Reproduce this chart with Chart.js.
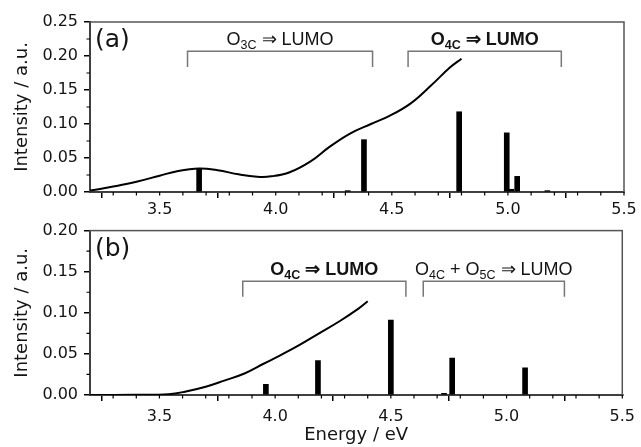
<!DOCTYPE html>
<html>
<head>
<meta charset="utf-8">
<script src="https://cdn.jsdelivr.net/npm/chart.js@4.4.1/dist/chart.umd.min.js"></script>
<style>
  body { margin: 0; background: #fff; }
  #wrap { position: relative; width: 641px; height: 447px; }
  .panel { position: absolute; left: 0; }
</style>
</head>
<body>
<div id="wrap">
  <div class="panel" style="top:0"><canvas id="chartA" width="641" height="230"></canvas></div>
  <div class="panel" style="top:215px"><canvas id="chartB" width="641" height="232"></canvas></div>
</div>
<script>
// panel (a): stick spectrum + broadened curve
const stickEnergyA = [3.67, 4.31, 4.38, 4.79, 4.995, 5.015, 5.04, 5.17];
const stickIntensityA = [0.034, 0.002, 0.077, 0.118, 0.087, 0.004, 0.023, 0.002];
const curveEnergyA = [3.20, 3.30, 3.40, 3.50, 3.58, 3.67, 3.75, 3.84, 3.92, 3.98, 4.06, 4.15, 4.23, 4.32, 4.41, 4.49, 4.58, 4.67, 4.75, 4.80];
const curveIntensityA = [0.002, 0.008, 0.015, 0.024, 0.031, 0.0345, 0.032, 0.026, 0.0225, 0.023, 0.029, 0.045, 0.066, 0.086, 0.100, 0.112, 0.130, 0.157, 0.183, 0.196];

// panel (b)
const stickEnergyB = [3.96, 4.185, 4.50, 4.73, 4.765, 5.08];
const stickIntensityB = [0.013, 0.042, 0.091, 0.002, 0.045, 0.033];
const curveEnergyB = [3.20, 3.40, 3.54, 3.61, 3.70, 3.78, 3.87, 3.95, 4.02, 4.10, 4.19, 4.28, 4.36, 4.40];
const curveIntensityB = [0.0, 0.0002, 0.001, 0.004, 0.010, 0.0175, 0.0265, 0.038, 0.048, 0.060, 0.075, 0.090, 0.105, 0.114];

const xTicks = [3.5, 4.0, 4.5, 5.0, 5.5];
const yTicksA = [0.00, 0.05, 0.10, 0.15, 0.20, 0.25];
const yTicksB = [0.00, 0.05, 0.10, 0.15, 0.20];

// bracket annotations: x start/end (eV), bracket top and foot (intensity), label parts
const bracketsA = [
  { x0: 3.62, x1: 4.417, yTop: 0.207, yFoot: 0.184, bold: false,
    parts: [['O'], ['3C', 'sub'], [' \u21D2 LUMO']] },
  { x0: 4.57, x1: 5.23, yTop: 0.207, yFoot: 0.184, bold: true,
    parts: [['O'], ['4C', 'sub'], [' \u21D2 LUMO']] }
];
const bracketsB = [
  { x0: 3.86, x1: 4.565, yTop: 0.1385, yFoot: 0.1196, bold: true,
    parts: [['O'], ['4C', 'sub'], [' \u21D2 LUMO']] },
  { x0: 4.64, x1: 5.25, yTop: 0.1385, yFoot: 0.1196, bold: false,
    parts: [['O'], ['4C', 'sub'], [' + O'], ['5C', 'sub'], [' \u21D2 LUMO']] }
];

const AXFONT = "'DejaVu Sans', sans-serif";
const LBLFONT = "'Liberation Sans', Arial, Helvetica, sans-serif";
const INK = '#141414';

function drawRich(ctx, parts, cx, baseline, bold) {
  const w = bold ? 'bold ' : '';
  const fonts = parts.map(p => p[1] === 'sub' ? w + '12.5px ' + LBLFONT : w + '18px ' + LBLFONT);
  let total = 0;
  const widths = parts.map((p, i) => { ctx.font = fonts[i]; const m = ctx.measureText(p[0]).width; total += m; return m; });
  let x = cx - total / 2;
  parts.forEach((p, i) => {
    ctx.font = fonts[i];
    ctx.fillText(p[0], x, p[1] === 'sub' ? baseline + 4 : baseline);
    x += widths[i];
  });
}

const decorPlugin = {
  id: 'decor',
  beforeDatasetsDraw(chart, args, opts) {
    const ctx = chart.ctx;
    const a = chart.chartArea;
    const xs = chart.scales.x, ys = chart.scales.y;
    ctx.save();
    // frame
    ctx.strokeStyle = '#555';
    ctx.lineWidth = 1.5;
    ctx.strokeRect(a.left, a.top, a.right - a.left, a.bottom - a.top);
    // minor ticks
    ctx.strokeStyle = '#000';
    ctx.lineWidth = 1.2;
    ctx.beginPath();
    for (let v = 3.3; v < 5.5; v += 0.1) {
      const px = xs.getPixelForValue(v);
      ctx.moveTo(px, a.bottom); ctx.lineTo(px, a.bottom + 3.5);
    }
    for (let v = 0.025; v < opts.yMax; v += 0.05) {
      const py = ys.getPixelForValue(v);
      ctx.moveTo(a.left, py); ctx.lineTo(a.left - 3.5, py);
    }
    ctx.stroke();
    // brackets
    ctx.strokeStyle = '#777';
    ctx.lineWidth = 1.5;
    ctx.fillStyle = INK;
    ctx.textAlign = 'left';
    ctx.textBaseline = 'alphabetic';
    opts.brackets.forEach(b => {
      const x0 = xs.getPixelForValue(b.x0), x1 = xs.getPixelForValue(b.x1);
      const yt = ys.getPixelForValue(b.yTop), yf = ys.getPixelForValue(b.yFoot);
      ctx.beginPath();
      ctx.moveTo(x0, yf); ctx.lineTo(x0, yt); ctx.lineTo(x1, yt); ctx.lineTo(x1, yf);
      ctx.stroke();
      drawRich(ctx, b.parts, (x0 + x1) / 2, yt - 6, b.bold);
    });
    // panel label
    ctx.font = '25px ' + AXFONT;
    ctx.fillText(opts.panel, a.left + 5, a.top + 25);
    ctx.restore();
  }
};

function makeChart(id, stickE, stickI, curveE, curveI, yTicks, yMax, brackets, panel, bottomPanel) {
  const topPad = bottomPanel ? 10 : 22;
  const canvasH = bottomPanel ? 232 : 230;
  const xHeight = canvasH - topPad - 170;
  return new Chart(document.getElementById(id), {
    type: 'bar',
    data: {
      datasets: [
        {
          type: 'line',
          data: curveE.map((e, i) => ({ x: e, y: curveI[i] })),
          borderColor: '#000',
          borderWidth: 2,
          pointRadius: 0,
          tension: 0.4,
          fill: false
        },
        {
          type: 'bar',
          data: stickE.map((e, i) => ({ x: e, y: stickI[i] })),
          backgroundColor: '#000',
          barThickness: 5
        }
      ]
    },
    options: {
      responsive: false,
      devicePixelRatio: 1,
      animation: false,
      layout: { padding: { top: topPad, right: 17, left: 0, bottom: 0 } },
      plugins: {
        legend: { display: false },
        tooltip: { enabled: false },
        decor: { brackets, panel, yMax }
      },
      scales: {
        x: {
          type: 'linear',
          min: 3.2, max: 5.5,
          offset: false,
          afterBuildTicks: s => { s.ticks = xTicks.map(v => ({ value: v })); },
          afterFit: s => { s.height = xHeight; },
          border: { color: '#000', width: 2 },
          grid: { drawOnChartArea: false, tickLength: 6, color: '#000', lineWidth: 1.5 },
          ticks: {
            color: INK,
            padding: bottomPanel ? 6 : 2,
            font: { family: AXFONT, size: 16 },
            callback: v => v.toFixed(1)
          },
          title: {
            display: bottomPanel,
            text: 'Energy / eV',
            color: INK,
            font: { family: AXFONT, size: 18 },
            padding: { top: 0, bottom: 1 }
          }
        },
        y: {
          min: 0, max: yMax,
          afterBuildTicks: s => { s.ticks = yTicks.map(v => ({ value: v })); },
          afterFit: s => { s.width = 90; },
          border: { color: '#000', width: 2 },
          grid: { drawOnChartArea: false, tickLength: 6, color: '#000', lineWidth: 1.5 },
          ticks: {
            color: INK,
            padding: 6,
            font: { family: AXFONT, size: 16 },
            callback: v => v.toFixed(2)
          },
          title: {
            display: true,
            text: 'Intensity / a.u.',
            color: INK,
            font: { family: AXFONT, size: 18 },
            padding: { top: 12, bottom: 0 }
          }
        }
      }
    },
    plugins: [decorPlugin]
  });
}

makeChart('chartA', stickEnergyA, stickIntensityA, curveEnergyA, curveIntensityA, yTicksA, 0.25, bracketsA, '(a)', false);
makeChart('chartB', stickEnergyB, stickIntensityB, curveEnergyB, curveIntensityB, yTicksB, 0.20, bracketsB, '(b)', true);
</script>
</body>
</html>
